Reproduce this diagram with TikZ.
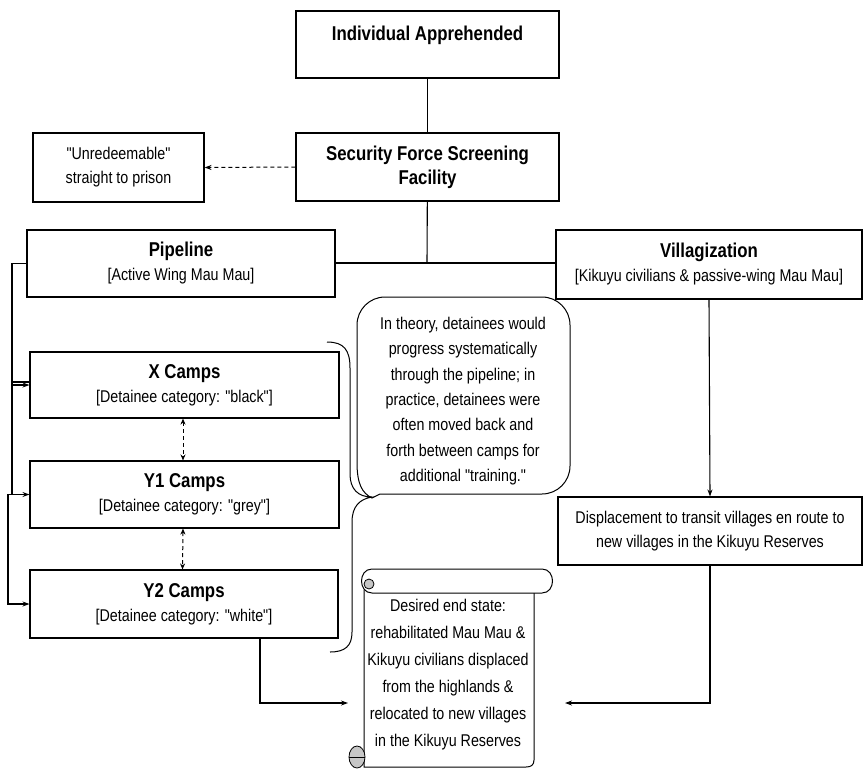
\documentclass[tikz,border=0pt]{standalone}
\usepackage{fontspec}
\setmainfont[FakeStretch=0.84, Ligatures=TeXOff]{Liberation Sans}
\usetikzlibrary{arrows.meta}

\newcommand{\hd}[1]{{\fontsize{20}{24}\selectfont\bfseries #1}}

\begin{document}
\begin{tikzpicture}[x=1pt,y=-1pt,
  box/.style={draw, line width=1.1pt, fill=white, align=center, inner sep=0pt,
    font=\fontsize{17}{24}\selectfont},
  link/.style={line width=1.1pt},
  arr/.style={link, -{Stealth[length=7pt,width=5pt]}},
  dsh/.style={line width=1pt, dash pattern=on 4pt off 3pt},
  txt/.style={align=center, inner sep=0pt}]
\fill[white] (0,0) rectangle (864,769);
\useasboundingbox (0,0) rectangle (864,769);

% boxes
\node[box, minimum width=263pt, minimum height=67pt] (appr) at (427.5,44.5) {\hd{Individual Apprehended}\\[-8pt] \strut};
\node[box, minimum width=263pt, minimum height=68pt] (screen) at (427.5,167) {\hd{Security Force Screening}\\ \hd{Facility}};
\node[box, minimum width=171pt, minimum height=69pt] (unred) at (118.5,167.5) {"Unredeemable"\\ straight to prison};
\node[box, minimum width=308pt, minimum height=67pt] (pipe) at (181,263.5) {\hd{Pipeline}\\{}[Active Wing Mau Mau]};
\node[box, minimum width=306pt, minimum height=69pt] (vill) at (709,264.5) {\hd{Villagization}\\{}[Kikuyu civilians \& passive-wing Mau Mau]};
\node[box, minimum width=309pt, minimum height=66pt] (xc) at (184.5,385) {\hd{X Camps}\\{}[Detainee category: "black"]};
\node[box, minimum width=309pt, minimum height=67pt] (y1) at (184.5,494.5) {\hd{Y1 Camps}\\{}[Detainee category: "grey"]};
\node[box, minimum width=308pt, minimum height=68pt] (y2) at (184,604) {\hd{Y2 Camps}\\{}[Detainee category: "white"]};
\node[box, minimum width=304pt, minimum height=68pt] (disp) at (710,531) {Displacement to transit villages en route to\\ new villages in the Kikuyu Reserves};

% speech bubble
\draw[line width=1pt] (380,494) [rounded corners=28pt] -- (570,494) -- (570,297) -- (357,297) -- (357,440)
  [sharp corners] -- (357,462) .. controls (357,484) and (362,493) .. (372,498) -- cycle;
\node[txt, font=\fontsize{17}{25.3}\selectfont] (note) at (463,401) {In theory, detainees would\\ progress systematically\\ through the pipeline; in\\ practice, detainees were\\ often moved back and\\ forth between camps for\\ additional "training."};

% brace
\draw[line width=1pt] (327,342) .. controls (344,342) and (350,350) .. (350,368) -- (350,474)
  .. controls (350,489) and (358,497) .. (372,497) .. controls (360,499) and (352,506) .. (352,522)
  -- (352,632) .. controls (352,646) and (345,652) .. (330,652);

% scroll
\draw[line width=1pt, fill=white] (534,590) -- (534,760) .. controls (534,765) and (531,767) .. (526,767) -- (364,767) -- (364,590);
\draw[line width=1pt, fill=white] (372,569) -- (542,569) .. controls (556,569) and (556,593) .. (542,593) -- (372,593)
  .. controls (358,593) and (358,569) .. (372,569);
\draw[line width=0.8pt, fill=gray!45] (369,584) circle (5pt);
\draw[line width=0.8pt, fill=gray!45] (357,757) ellipse (8pt and 11pt);
\draw[line width=0.8pt] (349,757) -- (365,757);
\node[txt, font=\fontsize{17}{27}\selectfont] (goal) at (448,674.5) {Desired end state:\\ rehabilitated Mau Mau \&\\ Kikuyu civilians displaced\\ from the highlands \&\\ relocated to new villages\\ in the Kikuyu Reserves};

% connectors
\coordinate (jn) at (427,263);
\coordinate (rail) at (12,0);
\coordinate (rail2) at (8,0);
\coordinate (lend) at (348,703);
\coordinate (rend) at (565,703);

\draw[link] (appr) -- (screen);
\draw[dsh, -{Stealth[length=7pt,width=5pt]}] (screen.west) -- (unred.east);
\draw[link] (screen) -- (jn);
\draw[link] (pipe.east |- jn) -- (vill.west |- jn);

\draw[link] (pipe.west) -| (rail |- y1.west);
\draw[arr] (rail |- y1.west) -- (y1.west);
\draw[arr] (rail |- xc.west) -- (xc.west);
\draw[link] ([yshift=3pt]rail |- xc.west) -- ([yshift=3pt]xc.west);
\draw[arr] (rail |- y1.west) -- (rail2 |- y1.west) -- (rail2 |- y2.west) -- (y2.west);

\draw[dsh, {Stealth[length=6pt,width=5pt]}-{Stealth[length=6pt,width=5pt]}] ([xshift=-1.5pt]xc.south) -- ([xshift=-1.5pt]y1.north);
\draw[dsh, {Stealth[length=6pt,width=5pt]}-{Stealth[length=6pt,width=5pt]}] ([xshift=-1.5pt]y1.south) -- ([xshift=-1.5pt]y2.north);

\draw[arr] (vill.south) -- (disp.north);
\draw[arr] (disp.south) |- (rend);
\draw[arr] ([xshift=76pt]y2.south) |- (lend);
\end{tikzpicture}
\end{document}
